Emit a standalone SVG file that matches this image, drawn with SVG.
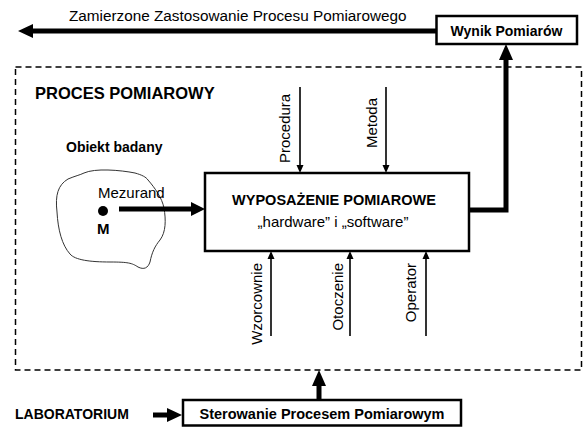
<svg xmlns="http://www.w3.org/2000/svg" width="584" height="427" viewBox="0 0 584 427">
<style>
text{font-family:"Liberation Sans",Arial,sans-serif;fill:#000}
.b{font-weight:bold}
.r{font-size:15px}
.box{fill:#fff;stroke:#000;stroke-width:2.5}
.thin{stroke:#000;stroke-width:1.6;fill:none}
.thick{stroke:#000;stroke-width:5;fill:none}
.head{fill:#000}
</style>
<rect x="0" y="0" width="584" height="427" fill="#fff"/>
<rect id="proces" x="15.5" y="67" width="566" height="303" fill="none" stroke="#000" stroke-width="1.5" stroke-dasharray="6,4"/>
<text class="b" x="35" y="99" font-size="16.5">PROCES POMIAROWY</text>
<g id="obiekt">
<path d="M84,173 C95,168 120,170 135,173 C142,175 146,177 148,180 C155,188 162,198 164,208 C166,220 166,232 160,240 C155,246 152,252 150,262 C148,268 144,270 138,267 C132,263 128,262 110,262 C90,262 75,260 70,254 C62,245 58,230 57,212 C55,195 58,185 68,179 C75,176 80,175 84,173 Z" fill="none" stroke="#333" stroke-width="1"/>
<text class="b" x="66" y="152" font-size="14">Obiekt badany</text>
<text class="r" x="98" y="198">Mezurand</text>
<circle cx="103" cy="211" r="5" fill="#000"/>
<text class="b" x="97" y="234" font-size="15">M</text>
</g>
<g id="wyposazenie">
<rect class="box" x="205" y="173" width="264" height="78"/>
<text class="b" x="334" y="205" font-size="14.5" text-anchor="middle">WYPOSAŻENIE POMIAROWE</text>
<text class="r" x="333" y="227" text-anchor="middle">„hardware” i „software”</text>
</g>
<g id="wynik">
<rect class="box" x="436.5" y="16" width="140.5" height="28"/>
<text class="b" x="506.5" y="36" font-size="14" text-anchor="middle">Wynik Pomiarów</text>
</g>
<g id="sterowanie">
<rect class="box" x="183" y="400" width="278" height="25.5"/>
<text class="b" x="322" y="419" font-size="14.5" text-anchor="middle">Sterowanie Procesem Pomiarowym</text>
</g>
<g id="laboratorium">
<text class="b" x="15" y="419" font-size="14">LABORATORIUM</text>
</g>
<g id="connectors">
<line class="thick" x1="436" y1="31" x2="30" y2="31" stroke-width="4.5"/>
<polygon class="head" points="18,31 33,24 33,38"/>
<text x="69" y="20.5" font-size="15.3">Zamierzone Zastosowanie Procesu Pomiarowego</text>
<polyline class="thick" points="469,210 506,210 506,56"/>
<polygon class="head" points="506,44 499,60 513,60"/>
<line class="thick" x1="119" y1="209" x2="193" y2="209"/>
<polygon class="head" points="205,209 191,202 191,216"/>
<line class="thin" x1="300" y1="87" x2="300" y2="167"/>
<polygon class="head" points="300,173 296.5,165 303.5,165"/>
<text class="r" transform="translate(289.5,163) rotate(-90)">Procedura</text>
<line class="thin" x1="386" y1="87" x2="386" y2="167"/>
<polygon class="head" points="386,173 382.5,165 389.5,165"/>
<text class="r" transform="translate(377,148) rotate(-90)">Metoda</text>
<line class="thin" x1="271" y1="336" x2="271" y2="257"/>
<polygon class="head" points="271,251 267.5,259 274.5,259"/>
<text class="r" transform="translate(262,263) rotate(-90)" text-anchor="end">Wzorcownie</text>
<line class="thin" x1="350" y1="336" x2="350" y2="257"/>
<polygon class="head" points="350,251 346.5,259 353.5,259"/>
<text class="r" transform="translate(343,263) rotate(-90)" text-anchor="end">Otoczenie</text>
<line class="thin" x1="426" y1="336" x2="426" y2="257"/>
<polygon class="head" points="426,251 422.5,259 429.5,259"/>
<text class="r" transform="translate(415.5,263) rotate(-90)" text-anchor="end">Operator</text>
<line class="thick" x1="319" y1="400" x2="319" y2="383"/>
<polygon class="head" points="319,370 312,386 326,386"/>
<line class="thick" x1="153" y1="415" x2="169" y2="415"/>
<polygon class="head" points="182,415 167,408 167,422"/>
</g>
</svg>
